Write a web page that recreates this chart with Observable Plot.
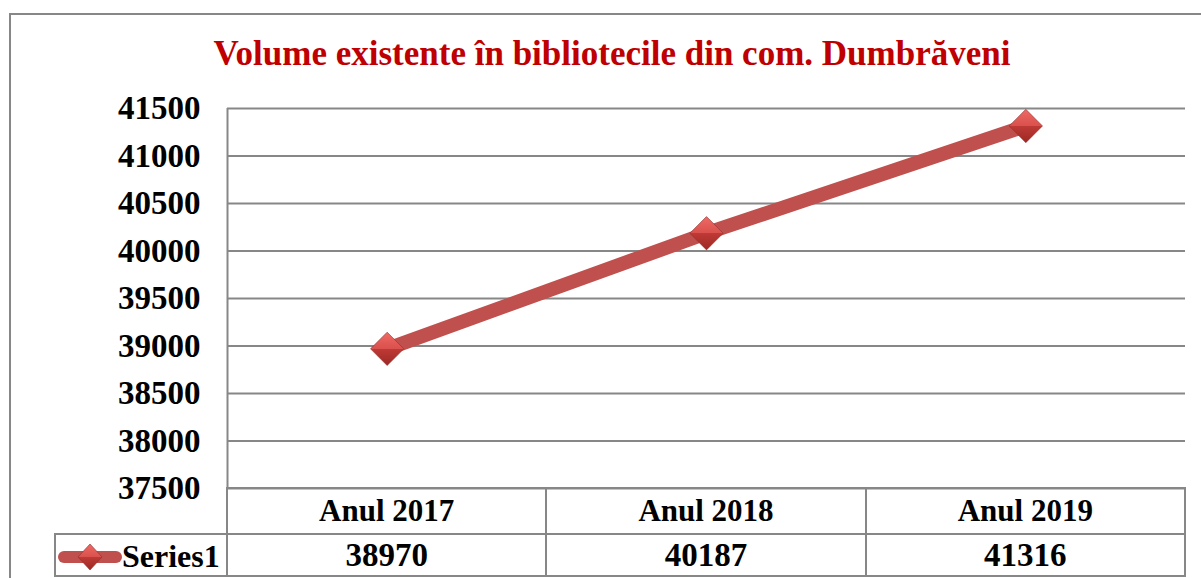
<!DOCTYPE html>
<html>
<head>
<meta charset="utf-8">
<script src="https://cdn.jsdelivr.net/npm/d3@7"></script>
<script src="https://cdn.jsdelivr.net/npm/@observablehq/plot@0.6"></script>
<style>
  html, body { margin: 0; padding: 0; background: #fff; overflow: hidden; width: 1201px; height: 578px; }
  #frame { position: absolute; left: 9px; top: 13px; width: 1260px; height: 700px; border: 2px solid #878787; box-sizing: border-box; }
  #title { position: absolute; left: 0; width: 1224px; top: 34px; text-align: center; font-family: "Liberation Serif", serif; font-weight: bold; font-size: 35px; line-height: 40px; color: #C00000; margin: 0; }
  #chart { position: absolute; left: 0; top: 0; }
  #table { position: absolute; border-collapse: collapse; font-family: "Liberation Serif", serif; font-weight: bold; font-size: 31px; color: #000; }
  #table td { border: 2px solid #878787; text-align: center; padding: 0; box-sizing: border-box; }
  #table td.blank { border: none; }
  #table td.num { font-size: 33px; }
  #table td.legend { text-align: left; white-space: nowrap; font-size: 32px; }
  #table td.legend svg { vertical-align: middle; margin-left: 2px; }
</style>
</head>
<body>
<div id="frame"></div>
<div id="title"></div>
<div id="chart"></div>
<table id="table"></table>
<script>
const title = "Volume existente în bibliotecile din com. Dumbrăveni";
const categories = ["Anul 2017", "Anul 2018", "Anul 2019"];
const values = [38970, 40187, 41316];
const yTicks = [37500, 38000, 38500, 39000, 39500, 40000, 40500, 41000, 41500];
const seriesName = "Series1";

const data = categories.map((c, i) => ({ pos: i + 0.5, cat: c, value: values[i] }));

document.getElementById("title").textContent = title;

const chart = Plot.plot({
  width: 1201,
  height: 500,
  marginLeft: 227,
  marginRight: 16,
  marginTop: 108,
  marginBottom: 12,
  style: { fontFamily: "'Liberation Serif', serif", fontWeight: "bold", fontSize: "33px", color: "#000", background: "transparent", overflow: "visible" },
  x: { domain: [0, categories.length], axis: null },
  y: { domain: [yTicks[0], yTicks[yTicks.length - 1]], ticks: yTicks, tickSize: 0, tickPadding: 27, tickFormat: "d", label: null },
  marks: [
    Plot.ruleY(yTicks, { stroke: "#878787", strokeWidth: 2, strokeOpacity: 1 }),
    Plot.ruleX([0], { stroke: "#878787", strokeWidth: 2, strokeOpacity: 1 }),
    Plot.line(data, { x: "pos", y: "value", stroke: "#C0504D", strokeWidth: 14 }),
    Plot.dot(data, { x: "pos", y: "value", symbol: "diamond2", r: 15, fill: "url(#mkgrad)", stroke: "#8E2F2C", strokeWidth: 0.6, style: "filter: url(#mkshadow)" })
  ]
});

const svgSel = d3.select(chart);
const defs = svgSel.insert("defs", ":first-child");
const g = defs.append("linearGradient").attr("id", "mkgrad").attr("x1", 0).attr("y1", 0).attr("x2", 0).attr("y2", 1);
g.append("stop").attr("offset", "0").attr("stop-color", "#F06A66");
g.append("stop").attr("offset", "0.5").attr("stop-color", "#D9504C");
g.append("stop").attr("offset", "0.5").attr("stop-color", "#BE3A36");
g.append("stop").attr("offset", "1").attr("stop-color", "#9E2824");
const f = defs.append("filter").attr("id", "mkshadow").attr("x", "-50%").attr("y", "-50%").attr("width", "200%").attr("height", "200%");
f.append("feDropShadow").attr("dx", 1).attr("dy", 3).attr("stdDeviation", 2).attr("flood-color", "#000").attr("flood-opacity", 0.35);

document.getElementById("chart").appendChild(chart);

// data table below the plot, aligned with the x scale
const xs = chart.scale("x");
const ys = chart.scale("y");
const colW = xs.apply(1) - xs.apply(0);
const plotLeft = xs.apply(0);
const legendLeft = 55;
const table = document.getElementById("table");
table.style.left = (legendLeft - 1) + "px";
table.style.top = (ys.apply(yTicks[0]) - 1) + "px";

const tr1 = document.createElement("tr");
tr1.style.height = "46px";
const blank = document.createElement("td");
blank.className = "blank";
blank.style.width = (plotLeft - legendLeft) + "px";
tr1.appendChild(blank);
categories.forEach(c => {
  const td = document.createElement("td");
  td.style.width = colW + "px";
  td.textContent = c;
  tr1.appendChild(td);
});
table.appendChild(tr1);

const tr2 = document.createElement("tr");
tr2.style.height = "42px";
const leg = document.createElement("td");
leg.className = "legend";
leg.innerHTML = `<svg width="64" height="34" viewBox="0 0 64 34">
  <defs><linearGradient id="lggrad" x1="0" y1="0" x2="0" y2="1">
    <stop offset="0" stop-color="#F06A66"/><stop offset="0.5" stop-color="#D9504C"/>
    <stop offset="0.5" stop-color="#BE3A36"/><stop offset="1" stop-color="#9E2824"/></linearGradient></defs>
  <line x1="6" y1="17" x2="58" y2="17" stroke="#C0504D" stroke-width="12" stroke-linecap="round"/>
  <path d="M32 4 L44 17 L32 30 L20 17 Z" fill="url(#lggrad)" stroke="#8E2F2C" stroke-width="0.6"/>
</svg>`;
const legText = document.createElement("span");
legText.textContent = seriesName;
legText.style.verticalAlign = "middle";
leg.appendChild(legText);
tr2.appendChild(leg);
values.forEach(v => {
  const td = document.createElement("td");
  td.className = "num";
  td.textContent = String(v);
  tr2.appendChild(td);
});
table.appendChild(tr2);
</script>
</body>
</html>
